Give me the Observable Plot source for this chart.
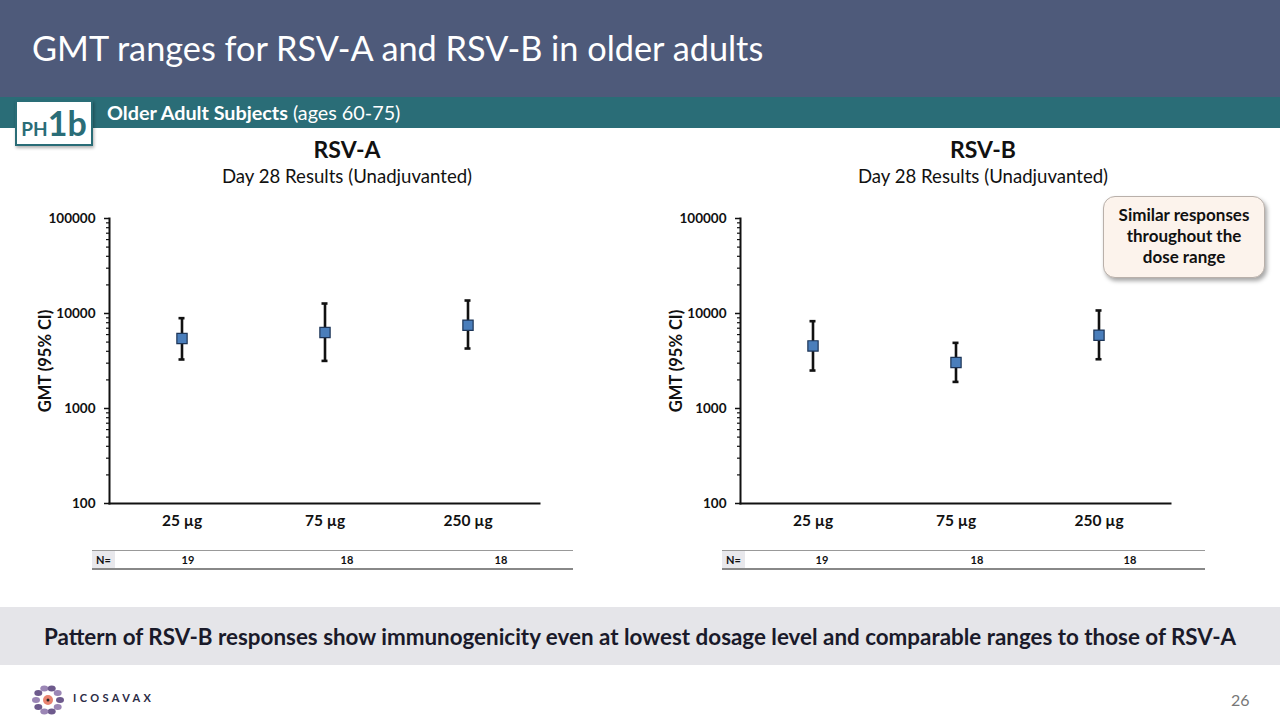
<!DOCTYPE html>
<html>
<head>
<meta charset="utf-8">
<script src="https://cdn.jsdelivr.net/npm/d3@7"></script>
<script src="https://cdn.jsdelivr.net/npm/@observablehq/plot@0.6"></script>
<style>
  html, body { margin:0; padding:0; }
  body { width:1280px; height:720px; position:relative; overflow:hidden; background:#fff; font-family: Lato, "Open Sans", sans-serif; }
  .abs { position:absolute; }
  #header { left:0; top:0; width:1280px; height:97px; background:#4e5a7a; }
  #title { left:32px; top:27px; color:#fff; font-size:34.3px; white-space:nowrap; }
  #band { left:0; top:97px; width:1280px; height:31px; background:#2a6d77; }
  #bandtext { left:107px; top:100px; color:#fff; font-size:19.8px; white-space:nowrap; }
  #badge { left:15px; top:100px; width:78px; height:46px; background:#fff; border:2px solid #2a6d77; box-sizing:border-box; color:#2a6d77; font-weight:bold; white-space:nowrap; text-align:center; box-shadow: 1px 2px 3px rgba(0,0,0,0.3); }
  .sub1 { font-weight:bold; font-size:23px; color:#111; text-align:center; width:500px; }
  .sub2 { font-size:18.6px; color:#111; text-align:center; width:500px; }
  .ntable { height:17px; border-top:1px solid #999; border-bottom:2px solid #888; font-size:11px; font-weight:bold; color:#111; }
  .ncell { position:absolute; top:0; height:17px; line-height:17px; text-align:center; width:40px; }
  .nlab { position:absolute; left:0; top:0; width:23px; height:17px; line-height:17px; background:#e8e8ec; text-align:center; }
  #callout { left:1103px; top:196px; width:162px; height:82px; box-sizing:border-box; background:#fcf3ec; border:1px solid #b9b0aa; border-radius:12px; box-shadow: 2px 3px 4px rgba(0,0,0,0.35); font-weight:bold; font-size:17px; color:#111; text-align:center; line-height:21px; padding-top:7px; white-space:nowrap; }
  #bottom { left:0; top:607px; width:1280px; height:58px; background:#e5e5e9; }
  #bottomtext { left:0; top:623px; width:1280px; text-align:center; font-weight:bold; font-size:22.4px; color:#1a1a2a; white-space:nowrap; }
  #page { left:1231px; top:690px; font-size:16px; color:#777; }
  #logotext { left:73px; top:691px; font-size:11px; letter-spacing:3.4px; color:#2b2b45; font-weight:bold; }
</style>
</head>
<body>
<div id="header" class="abs"></div>
<div id="title" class="abs">GMT ranges for RSV-A and RSV-B in older adults</div>
<div id="band" class="abs"></div>
<div id="bandtext" class="abs"><b>Older Adult Subjects</b> (ages 60-75)</div>
<div id="badge" class="abs"><span style="font-size:19px">PH</span><span style="font-size:34px;line-height:42px">1b</span></div>

<div class="abs sub1" style="left:97px;top:135px">RSV-A</div>
<div class="abs sub2" style="left:97px;top:165px">Day 28 Results (Unadjuvanted)</div>
<div class="abs sub1" style="left:733px;top:135px">RSV-B</div>
<div class="abs sub2" style="left:733px;top:165px">Day 28 Results (Unadjuvanted)</div>

<div id="plotA" class="abs" style="left:30px;top:200px"></div>
<div id="plotB" class="abs" style="left:661px;top:200px"></div>

<div id="tableA" class="abs ntable" style="left:92px;top:550px;width:481px"></div>
<div id="tableB" class="abs ntable" style="left:722px;top:550px;width:483px"></div>

<div id="callout" class="abs">Similar responses<br>throughout the<br>dose range</div>

<div id="bottom" class="abs"></div>
<div id="bottomtext" class="abs">Pattern of RSV-B responses show immunogenicity even at lowest dosage level and comparable ranges to those of RSV-A</div>

<svg class="abs" style="left:28px;top:680px" width="40" height="40" viewBox="-20 -20 40 40">
  <g id="logo"></g>
</svg>
<div id="logotext" class="abs">ICOSAVAX</div>
<div id="page" class="abs">26</div>

<script>
// ---- data ----
const doses = ["25 µg", "75 µg", "250 µg"];
const nCounts = [19, 18, 18];
const rsvA_gmt = [5460, 6310, 7530];
const rsvA_lo  = [3280, 3170, 4280];
const rsvA_hi  = [8930, 12740, 13700];
const rsvB_gmt = [4560, 3050, 5910];
const rsvB_lo  = [2510, 1905, 3300];
const rsvB_hi  = [8300, 4910, 10760];
const yMajorTicks = [100, 1000, 10000, 100000];

const minorTicks = [];
for (const d of [100, 1000, 10000]) for (let k = 2; k <= 9; k++) minorTicks.push(d * k);

function makePlot(gmt, lo, hi) {
  const rows = doses.map((d, i) => ({dose: d, gmt: gmt[i], lo: lo[i], hi: hi[i]}));
  const font = "Lato, 'Open Sans', sans-serif";
  return Plot.plot({
    width: 530,
    height: 340,
    marginLeft: 79,
    marginRight: 21,
    marginTop: 18,
    marginBottom: 37,
    style: {fontFamily: font, fontSize: "13px", fontWeight: "bold", color: "#111", background: "transparent", overflow: "visible"},
    x: {domain: doses, padding: 0},
    y: {type: "log", domain: [100, 100000]},
    marks: [
      Plot.axisY({ticks: minorTicks, tickSize: 3, tickFormat: () => "", stroke: "#111", strokeWidth: 1.2, label: null}),
      Plot.axisY({ticks: yMajorTicks, tickSize: 5, tickPadding: 9, tickFormat: d => String(d), fontSize: 13.5, strokeWidth: 1.5, label: null}),
      Plot.axisY({ticks: [], label: "GMT (95% CI)", labelAnchor: "center", labelOffset: 70, labelArrow: "none", fontSize: 16.5}),
      Plot.axisX({tickSize: 0, tickPadding: 11, fontSize: 15.5, label: null}),
      Plot.frame({anchor: "left", stroke: "#111", strokeWidth: 2}),
      Plot.frame({anchor: "bottom", stroke: "#111", strokeWidth: 2}),
      Plot.ruleX(rows, {x: "dose", y1: "lo", y2: "hi", stroke: "#111", strokeWidth: 2.6}),
      Plot.tickY(rows, {x: "dose", y: "lo", stroke: "#111", strokeWidth: 2.6, insetLeft: 68.5, insetRight: 68.5}),
      Plot.tickY(rows, {x: "dose", y: "hi", stroke: "#111", strokeWidth: 2.6, insetLeft: 68.5, insetRight: 68.5}),
      Plot.dot(rows, {x: "dose", y: "gmt", symbol: "square", r: 5.8, fill: "#4a7ebb", stroke: "#1d3557", strokeWidth: 1.2})
    ]
  });
}

document.getElementById("plotA").appendChild(makePlot(rsvA_gmt, rsvA_lo, rsvA_hi));
document.getElementById("plotB").appendChild(makePlot(rsvB_gmt, rsvB_lo, rsvB_hi));

function makeTable(el, centers) {
  const lab = document.createElement("div");
  lab.className = "nlab"; lab.textContent = "N=";
  el.appendChild(lab);
  nCounts.forEach((n, i) => {
    const c = document.createElement("div");
    c.className = "ncell"; c.style.left = (centers[i] - 20) + "px"; c.textContent = n;
    el.appendChild(c);
  });
}
makeTable(document.getElementById("tableA"), [96, 255, 409]);
makeTable(document.getElementById("tableB"), [100, 255, 408]);

// decorative logo
const g = d3.select("#logo");
for (let i = 0; i < 10; i++) {
  const a = i * Math.PI * 2 / 10;
  g.append("ellipse").attr("cx", Math.cos(a) * 12).attr("cy", Math.sin(a) * 12)
    .attr("rx", 4).attr("ry", 3)
    .attr("fill", i % 2 ? "#9b86b5" : "#6d5a8c");
}
g.append("circle").attr("r", 5).attr("fill", "#e8826e");
g.append("circle").attr("r", 1.5).attr("fill", "#222");
</script>
</body>
</html>
